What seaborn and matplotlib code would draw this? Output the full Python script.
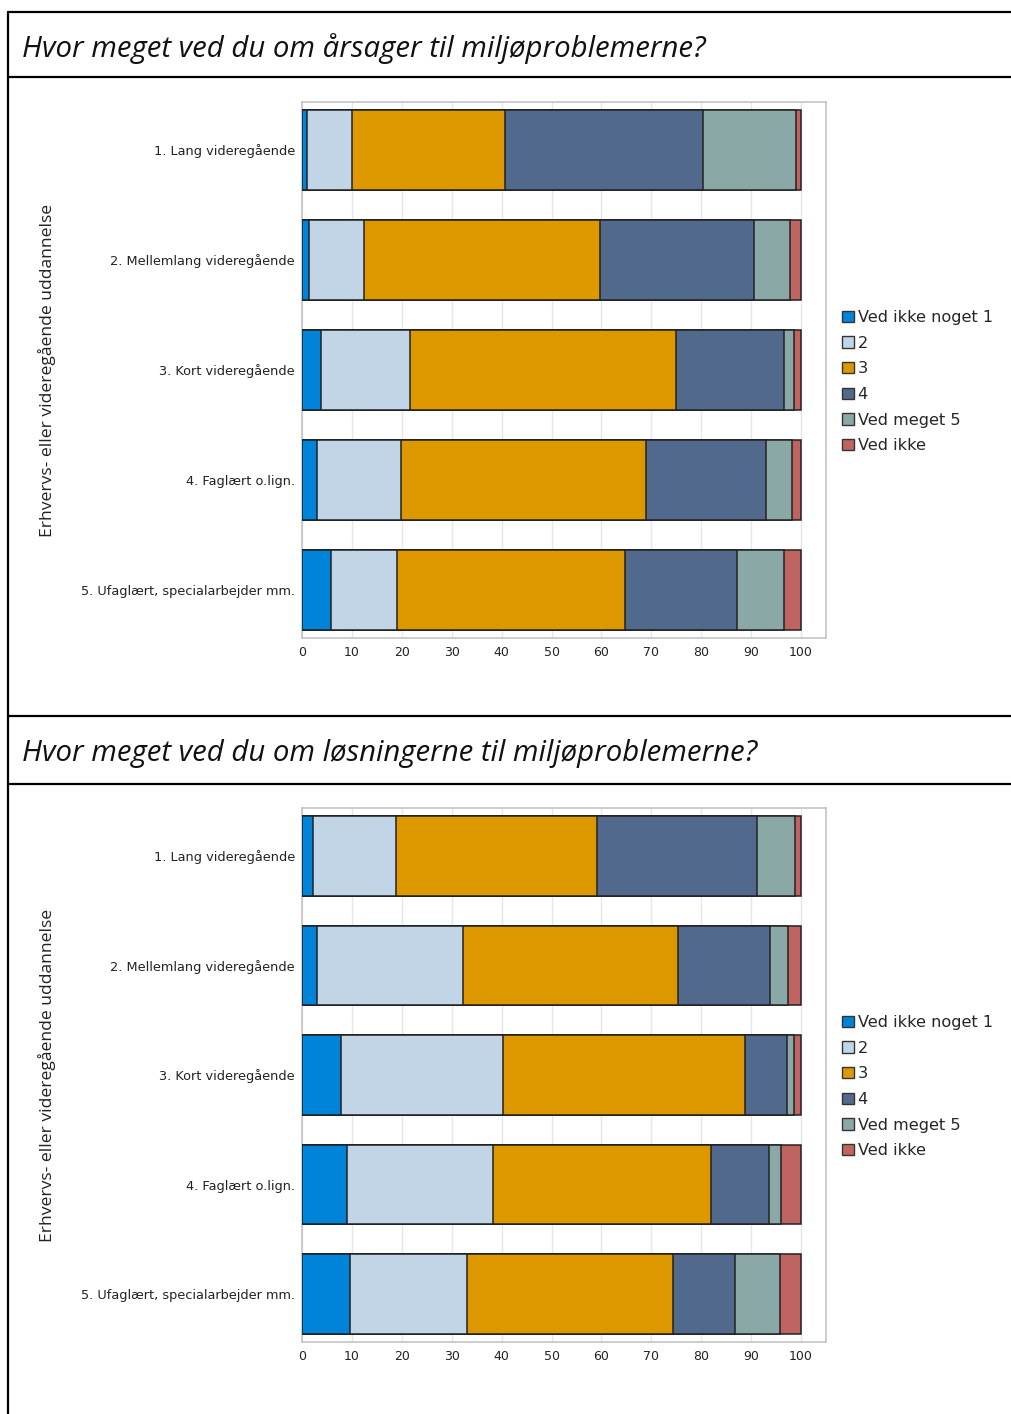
import numpy as np
import matplotlib
matplotlib.use("Agg")
import matplotlib.pyplot as plt
from matplotlib.lines import Line2D
from matplotlib.patches import Patch
import seaborn as sns

# categories (y axis) and response levels
groups = [
    "1. Lang videregående",
    "2. Mellemlang videregående",
    "3. Kort videregående",
    "4. Faglært o.lign.",
    "5. Ufaglært, specialarbejder mm.",
]
levels = ["Ved ikke noget 1", "2", "3", "4", "Ved meget 5", "Ved ikke"]
level_colors = ["#0084da", "#c1d5e6", "#dd9800", "#52698e", "#8aa9a6", "#c06462"]

# percentages per group, one list per level (chart 1: causes)
arsager_1 = [1.1, 1.4, 3.9, 3.0, 5.9]
arsager_2 = [9.0, 11.0, 17.8, 16.9, 13.1]
arsager_3 = [30.5, 47.3, 53.2, 49.0, 45.8]
arsager_4 = [39.7, 30.8, 21.7, 24.1, 22.3]
arsager_5 = [18.6, 7.2, 2.0, 5.1, 9.5]
arsager_vi = [1.1, 2.3, 1.4, 1.9, 3.4]

# chart 2: solutions
losning_1 = [2.2, 3.1, 7.9, 9.0, 9.6]
losning_2 = [16.6, 29.2, 32.3, 29.3, 23.4]
losning_3 = [40.3, 43.1, 48.5, 43.7, 41.4]
losning_4 = [32.1, 18.4, 8.4, 11.5, 12.4]
losning_5 = [7.6, 3.6, 1.4, 2.5, 9.0]
losning_vi = [1.2, 2.6, 1.5, 4.0, 4.2]

titles = [
    "Hvor meget ved du om årsager til miljøproblemerne?",
    "Hvor meget ved du om løsningerne til miljøproblemerne?",
]
ylabel = "Erhvervs- eller videregående uddannelse"

W, H = 1012, 1414
sns.set_style("white")
plt.rcParams["font.family"] = ["DejaVu Sans"]
fig = plt.figure(figsize=(W / 100, H / 100), dpi=100)


def fx(px):
    return px / W


def fy(py):
    return 1 - py / H


def stacked(ax, series):
    cum = np.cumsum(np.array(series), axis=0)
    # draw the longest cumulative bars first, shorter ones on top
    for i in range(len(series) - 1, -1, -1):
        sns.barplot(x=cum[i], y=groups, order=groups, orient="h",
                    color=level_colors[i], saturation=1, width=0.727,
                    edgecolor="#222222", linewidth=1.1, ax=ax, zorder=3)
    ax.set_xlim(0, 105)
    ax.set_ylim(4.436, -0.436)
    ax.set_xticks(range(0, 101, 10))
    ax.grid(axis="x", color="#e3e7ee", linewidth=1, zorder=0)
    ax.set_axisbelow(True)
    for s in ax.spines.values():
        s.set_color("#c4c4c4")
        s.set_linewidth(1.2)
    ax.tick_params(axis="x", length=3, color="#999999", labelsize=9, pad=3)
    ax.tick_params(axis="y", length=0, labelsize=9.3, pad=5)
    for lab in ax.get_xticklabels() + ax.get_yticklabels():
        lab.set_color("#222222")
    ax.set_xlabel("")
    ax.set_ylabel("")


data_sets = [
    [arsager_1, arsager_2, arsager_3, arsager_4, arsager_5, arsager_vi],
    [losning_1, losning_2, losning_3, losning_4, losning_5, losning_vi],
]
axes_px = [(102, 638), (808, 1342)]
title_y = [49, 754]
legend_top = [310, 1015]

handles = [Patch(facecolor=c, edgecolor="#333333", linewidth=1) for c in level_colors]

for k in range(2):
    top, bot = axes_px[k]
    ax = fig.add_axes([fx(302), fy(bot), fx(826 - 302), (bot - top) / H])
    stacked(ax, data_sets[k])
    fig.text(fx(47), fy((top + bot) / 2), ylabel, rotation=90,
             ha="center", va="center", fontsize=12.6, family="Open Sans",
             color="#222222")
    fig.text(fx(22), fy(title_y[k]), titles[k], ha="left", va="center",
             fontsize=21.2, style="italic", family="Open Sans", color="#111111")
    fig.legend(handles, levels, loc="upper left",
               bbox_to_anchor=(fx(842), fy(legend_top[k])), frameon=False,
               fontsize=11.6, handlelength=0.72, handleheight=0.72,
               handletextpad=0.25, labelspacing=0.66, borderpad=0,
               borderaxespad=0)

# table frame lines
for y in [12, 77, 716, 784]:
    fig.add_artist(Line2D([fx(8), 1], [fy(y), fy(y)], color="black", linewidth=1.6))
fig.add_artist(Line2D([fx(8), fx(8)], [fy(12), 0], color="black", linewidth=1.6))

fig.savefig("out.png", dpi=100)
